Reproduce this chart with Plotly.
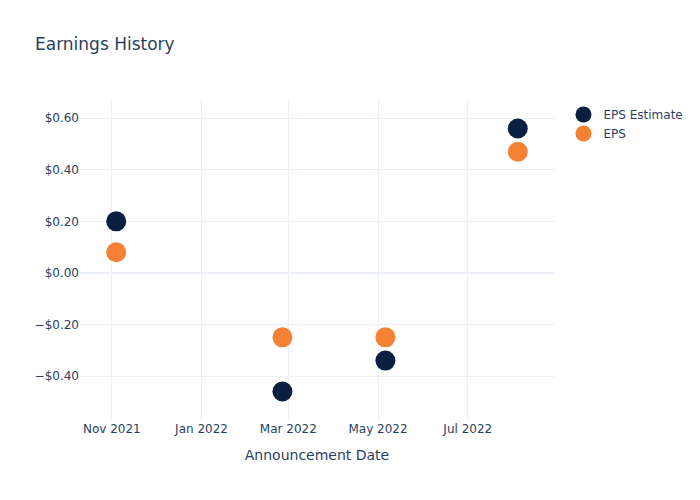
import plotly.graph_objects as go

dates = ["2021-11-04", "2022-02-25", "2022-05-06", "2022-08-04"]
eps_estimate = [0.20, -0.46, -0.34, 0.56]
eps_actual = [0.08, -0.25, -0.25, 0.47]

fig = go.Figure()
fig.add_trace(go.Scatter(x=dates, y=eps_estimate, mode="markers", name="EPS Estimate",
                         marker=dict(color="#0b1f41", size=20)))
fig.add_trace(go.Scatter(x=dates, y=eps_actual, mode="markers", name="EPS",
                         marker=dict(color="#f58234", size=20)))
fig.update_layout(
    template="plotly_white",
    font=dict(family="DejaVu Sans"),
    title="Earnings History",
    width=700, height=500,
    xaxis=dict(title="Announcement Date"),
    yaxis=dict(tickformat="$.2f"),
)
fig.write_html("out.html")
